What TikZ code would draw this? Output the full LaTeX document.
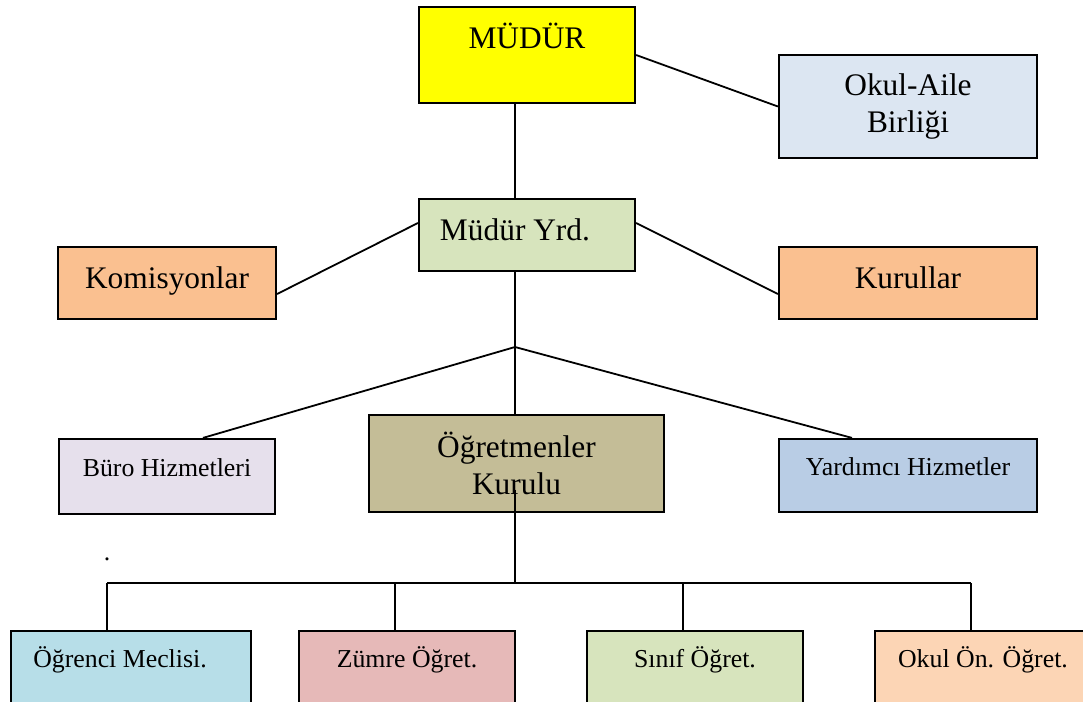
\documentclass[tikz,border=0pt]{standalone}
\usepackage{fontspec}
\setmainfont{Liberation Serif}
\usepackage{tikz}

\definecolor{sari}{HTML}{FFFF00}
\definecolor{aile}{HTML}{DCE6F2}
\definecolor{yesil}{HTML}{D7E4BD}
\definecolor{turuncu}{HTML}{FAC090}
\definecolor{lila}{HTML}{E6E0EC}
\definecolor{haki}{HTML}{C4BD97}
\definecolor{mavi}{HTML}{B9CDE5}
\definecolor{turkuaz}{HTML}{B7DEE8}
\definecolor{pembe}{HTML}{E6B9B8}
\definecolor{seftali}{HTML}{FCD5B5}

\newcommand{\buyuk}{\fontsize{15.7pt}{18.5pt}\selectfont}
\newcommand{\kucuk}{\fontsize{12.9pt}{15pt}\selectfont}

\begin{document}
\begin{tikzpicture}[x=0.5pt,y=-0.5pt,
    kutu/.style={draw, line width=1.1pt, inner sep=0pt, font=\buyuk},
    tek/.style={text height=10pt, text depth=#1},
    cizgi/.style={line width=0.9pt}]
  \useasboundingbox (0,0) rectangle (1083,702);
  \clip (0,0) rectangle (1083,702);

  % ust kisim
  \node[kutu, tek=17pt, fill=sari, minimum width=108pt, minimum height=48pt] (mudur) at (527,55) {MÜDÜR};
  \node[kutu, align=center, fill=aile, minimum width=129pt, minimum height=51.5pt] (aile) at (908,106.5) {Okul-Aile\\Birliği};
  \node[kutu, tek=5pt, fill=yesil, minimum width=108pt, minimum height=36pt] (yrd) at (527,235) {Müdür Yrd.\kern12pt};
  \node[kutu, tek=5pt, fill=turuncu, minimum width=109pt, minimum height=36pt] (komisyon) at (167,283) {Komisyonlar};
  \node[kutu, tek=5pt, fill=turuncu, minimum width=129pt, minimum height=36pt] (kurul) at (908,283) {Kurullar};

  % orta kisim
  \node[kutu, tek=10.5pt, font=\kucuk, fill=lila, minimum width=108pt, minimum height=37.5pt] (buro) at (167,476.5) {Büro Hizmetleri};
  \node[kutu, align=center, fill=haki, minimum width=147.5pt, minimum height=48.5pt] (ogretmen) at (516.5,463.5) {Öğretmenler\\Kurulu};
  \node[kutu, tek=10.5pt, font=\kucuk, fill=mavi, minimum width=129pt, minimum height=36.5pt] (yardimci) at (908,475.5) {Yardımcı Hizmetler};

  % alt kisim
  \foreach \ad/\x/\gen/\renk/\yazi in {ogrenci/131/120pt/turkuaz/Öğrenci Meclisi.\kern11pt,
      zumre/407/108pt/pembe/Zümre Öğret., sinif/695/108pt/yesil/Sınıf Öğret.,
      okulon/983/108pt/seftali/Okul Ön. Öğret.}
    \node[kutu, tek=14pt, font=\kucuk, fill=\renk, minimum width=\gen, minimum height=40pt] (\ad) at (\x,671) {\yazi};

  \node[font=\kucuk, inner sep=0pt] (nokta) at (107,559) {.};

  % baglantilar
  \coordinate (omurga) at (515,0);
  \coordinate (catal) at (515,347);
  \coordinate (hat) at (515,583);
  \draw[cizgi] (mudur.south -| omurga) -- (yrd.north -| omurga);
  \draw[cizgi] (mudur.east) -- (aile.west);
  \draw[cizgi] ([yshift=6pt]yrd.west) -- ([yshift=-5.5pt]komisyon.east);
  \draw[cizgi] ([yshift=6pt]yrd.east) -- ([yshift=-5.5pt]kurul.west);
  \draw[cizgi] (yrd.south -| omurga) -- (catal);
  \draw[cizgi] (catal) -- ([xshift=18pt]buro.north);
  \draw[cizgi] (catal) -- (ogretmen.north -| omurga);
  \draw[cizgi] (catal) -- ([xshift=-28pt]yardimci.north);
  \path (ogretmen.center -| omurga) ++(0,26) coordinate (kesik);
  \draw[cizgi] (kesik) -- (hat);
  \foreach \ad/\dx in {ogrenci/-12pt, zumre/-6pt, sinif/-6pt, okulon/-6pt}
    \draw[cizgi] ([xshift=\dx]\ad.north) coordinate (\ad-ust) -- (\ad-ust |- hat);
  \draw[cizgi] (ogrenci-ust |- hat) -- (okulon-ust |- hat);
\end{tikzpicture}
\end{document}
